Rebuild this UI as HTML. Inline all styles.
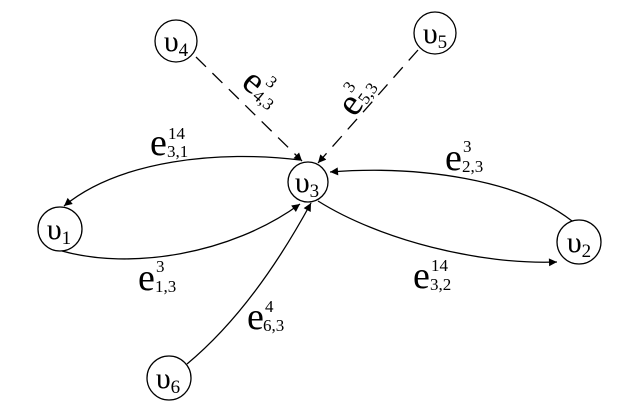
<!DOCTYPE html>
<html><head><meta charset="utf-8"><style>
html,body{margin:0;padding:0;background:#fff;}
svg, svg text{font-family:"Liberation Serif","DejaVu Serif","Times New Roman",serif;}
</style></head><body>
<svg width="629" height="403" viewBox="0 0 629 403" xmlns="http://www.w3.org/2000/svg">
<defs>
<marker id="a" viewBox="0 0 10 10" refX="10" refY="5" markerWidth="10" markerHeight="8" orient="auto" markerUnits="userSpaceOnUse">
<path d="M0,0 L10,5 L0,10 z" fill="#000"/></marker>
</defs>
<g fill="none" stroke="#000" stroke-width="1.3">
<circle cx="176" cy="41" r="21"/>
<circle cx="435" cy="33" r="21"/>
<circle cx="308" cy="182" r="20"/>
<circle cx="60" cy="229" r="22"/>
<circle cx="579" cy="242" r="22"/>
<circle cx="169" cy="378" r="22"/>
<path d="M196,57 L302,161" stroke-dasharray="14,9" marker-end="url(#a)"/>
<path d="M418,50 L318,163" stroke-dasharray="14,9" marker-end="url(#a)"/>
<path d="M300,160 C220,150 120,160 64,206" marker-end="url(#a)"/>
<path d="M62,251 C130,270 230,255 300,204" marker-end="url(#a)"/>
<path d="M318,201 C380,240 480,265 557,262" marker-end="url(#a)"/>
<path d="M572,221 C520,180 420,165 330,172" marker-end="url(#a)"/>
<path d="M187,364 C240,320 280,260 311,203" marker-end="url(#a)"/>
</g>
<g fill="#000">
<text x="176" y="51" font-size="30" text-anchor="middle">υ<tspan font-size="19" dy="5">4</tspan></text>
<text x="435" y="43" font-size="30" text-anchor="middle">υ<tspan font-size="19" dy="5">5</tspan></text>
<text x="307" y="192" font-size="30" text-anchor="middle">υ<tspan font-size="19" dy="5">3</tspan></text>
<text x="59" y="239" font-size="30" text-anchor="middle">υ<tspan font-size="19" dy="5">1</tspan></text>
<text x="579" y="252" font-size="30" text-anchor="middle">υ<tspan font-size="19" dy="5">2</tspan></text>
<text x="168" y="388" font-size="30" text-anchor="middle">υ<tspan font-size="19" dy="5">6</tspan></text>

<text x="150" y="155" font-size="38">e</text>
<text x="168" y="139" font-size="17">14</text>
<text x="167" y="157" font-size="17">3,1</text>

<text x="138" y="290" font-size="38">e</text>
<text x="156" y="272" font-size="17">3</text>
<text x="155" y="292" font-size="17">1,3</text>

<text x="413" y="288" font-size="38">e</text>
<text x="431" y="271" font-size="17">14</text>
<text x="430" y="290" font-size="17">3,2</text>

<text x="445" y="170" font-size="38">e</text>
<text x="463" y="152" font-size="17">3</text>
<text x="462" y="172" font-size="17">2,3</text>

<text x="247" y="329" font-size="38">e</text>
<text x="265" y="312" font-size="17">4</text>
<text x="263" y="331" font-size="17">6,3</text>

<g transform="translate(240,85) rotate(40)">
<text x="0" y="0" font-size="38">e</text>
<text x="18" y="-17" font-size="17">3</text>
<text x="17" y="2" font-size="17">4,3</text>
</g>
<g transform="translate(355,118) rotate(-55)">
<text x="0" y="0" font-size="38">e</text>
<text x="18" y="-17" font-size="17">3</text>
<text x="17" y="2" font-size="17">5,3</text>
</g>
</g>
</svg>
</body></html>
